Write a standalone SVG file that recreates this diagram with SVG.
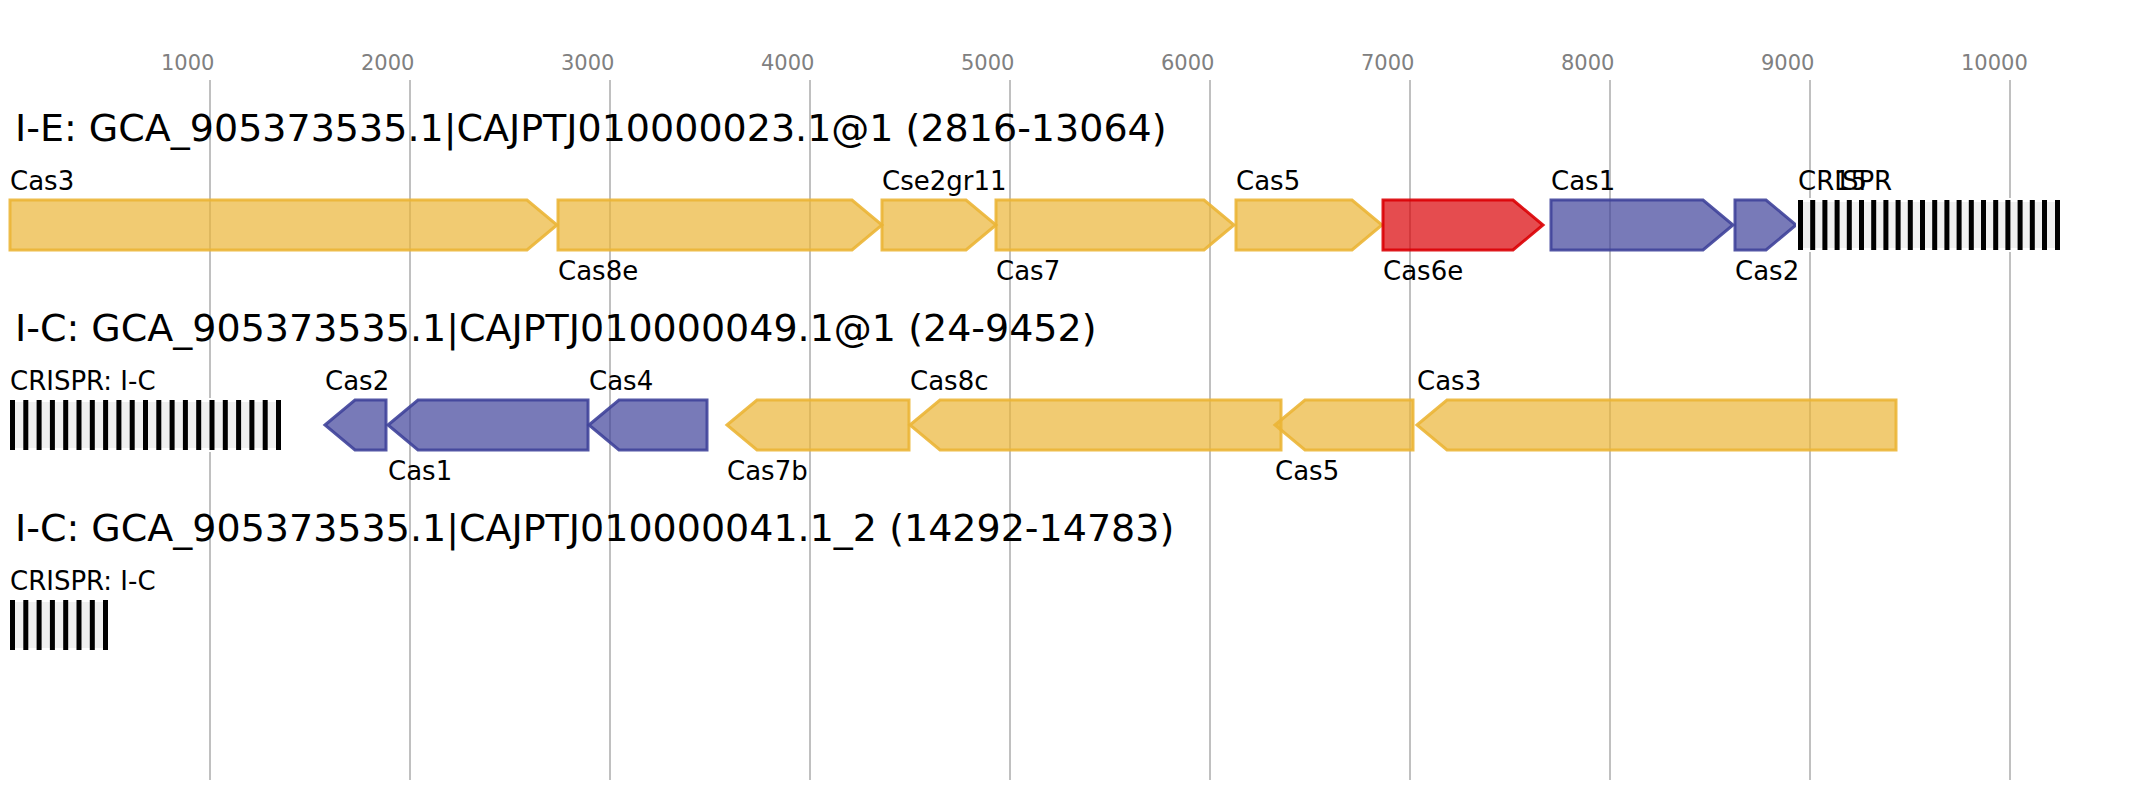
<svg xmlns="http://www.w3.org/2000/svg" width="2150" height="800" viewBox="0 0 2150 800">
<style>
text{font-family:"DejaVu Sans","Liberation Sans",sans-serif;fill:#000}
.tick{font-size:21px;fill:#808080}
.title{font-size:38px}
.lab{font-size:26px}
.grid{stroke:#c0c0c0;stroke-width:2}
.g{stroke-width:3;fill-opacity:0.7;stroke-opacity:0.9;stroke-linejoin:miter}
.y{fill:#EBB536;stroke:#EBB536}
.b{fill:#3F429A;stroke:#3F429A}
.r{fill:#DA0004;stroke:#DA0004}
.abg{fill:#f0f0f0;stroke:#fff;stroke-width:4}
.rep{fill:#000}
</style>
<rect width="2150" height="800" fill="#fff"/>
<g id="axis">
<line class="grid" x1="210" y1="80" x2="210" y2="780"/>
<line class="grid" x1="410" y1="80" x2="410" y2="780"/>
<line class="grid" x1="610" y1="80" x2="610" y2="780"/>
<line class="grid" x1="810" y1="80" x2="810" y2="780"/>
<line class="grid" x1="1010" y1="80" x2="1010" y2="780"/>
<line class="grid" x1="1210" y1="80" x2="1210" y2="780"/>
<line class="grid" x1="1410" y1="80" x2="1410" y2="780"/>
<line class="grid" x1="1610" y1="80" x2="1610" y2="780"/>
<line class="grid" x1="1810" y1="80" x2="1810" y2="780"/>
<line class="grid" x1="2010" y1="80" x2="2010" y2="780"/>
<text class="tick" x="161" y="70">1000</text>
<text class="tick" x="361" y="70">2000</text>
<text class="tick" x="561" y="70">3000</text>
<text class="tick" x="761" y="70">4000</text>
<text class="tick" x="961" y="70">5000</text>
<text class="tick" x="1161" y="70">6000</text>
<text class="tick" x="1361" y="70">7000</text>
<text class="tick" x="1561" y="70">8000</text>
<text class="tick" x="1761" y="70">9000</text>
<text class="tick" x="1961" y="70">10000</text>
</g>
<g id="titles">
<text class="title" x="15" y="141">I-E: GCA_905373535.1|CAJPTJ010000023.1@1 (2816-13064)</text>
<text class="title" x="15" y="341">I-C: GCA_905373535.1|CAJPTJ010000049.1@1 (24-9452)</text>
<text class="title" x="15" y="541">I-C: GCA_905373535.1|CAJPTJ010000041.1_2 (14292-14783)</text>
</g>
<g id="connectors"></g>
<!-- Row 1 -->
<g id="r1-cas3"><polygon class="g y" points="10,200 527,200 557,225 527,250 10,250"/><text class="lab" x="10" y="190">Cas3</text></g>
<g id="r1-cas8e"><polygon class="g y" points="558,200 852,200 882,225 852,250 558,250"/><text class="lab" x="558" y="280">Cas8e</text></g>
<g id="r1-cse2"><polygon class="g y" points="882,200 966,200 996,225 966,250 882,250"/><text class="lab" x="882" y="190">Cse2gr11</text></g>
<g id="r1-cas7"><polygon class="g y" points="996,200 1204,200 1234,225 1204,250 996,250"/><text class="lab" x="996" y="280">Cas7</text></g>
<g id="r1-cas5"><polygon class="g y" points="1236,200 1352,200 1382,225 1352,250 1236,250"/><text class="lab" x="1236" y="190">Cas5</text></g>
<g id="r1-cas6e"><polygon class="g r" points="1383,200 1513,200 1543,225 1513,250 1383,250"/><text class="lab" x="1383" y="280">Cas6e</text></g>
<g id="r1-cas1"><polygon class="g b" points="1551,200 1703,200 1733,225 1703,250 1551,250"/><text class="lab" x="1551" y="190">Cas1</text></g>
<g id="r1-cas2"><polygon class="g b" points="1735,200 1766,200 1796,225 1766,250 1735,250"/><text class="lab" x="1735" y="280">Cas2</text></g>
<g id="r1-crispr">
<rect class="abg" x="1798" y="200" width="262" height="50"/>
<g class="rep">
<rect x="1798" y="200" width="5" height="50"/><rect x="1810.2" y="200" width="5" height="50"/><rect x="1822.4" y="200" width="5" height="50"/><rect x="1834.6" y="200" width="5" height="50"/><rect x="1846.8" y="200" width="5" height="50"/><rect x="1859" y="200" width="5" height="50"/><rect x="1871.2" y="200" width="5" height="50"/><rect x="1883.4" y="200" width="5" height="50"/><rect x="1895.6" y="200" width="5" height="50"/><rect x="1907.8" y="200" width="5" height="50"/><rect x="1920" y="200" width="5" height="50"/><rect x="1932.2" y="200" width="5" height="50"/><rect x="1944.4" y="200" width="5" height="50"/><rect x="1956.6" y="200" width="5" height="50"/><rect x="1968.8" y="200" width="5" height="50"/><rect x="1981" y="200" width="5" height="50"/><rect x="1993.2" y="200" width="5" height="50"/><rect x="2005.4" y="200" width="5" height="50"/><rect x="2017.6" y="200" width="5" height="50"/><rect x="2029.8" y="200" width="5" height="50"/><rect x="2042" y="200" width="5" height="50"/><rect x="2055" y="200" width="5" height="50"/>
</g>
<text class="lab" x="1798" y="190">CRISPR</text><text class="lab" x="1834" y="190">15</text>
</g>
<!-- Row 2 -->
<g id="r2-crispr">
<rect class="abg" x="10" y="400" width="271" height="50"/>
<g class="rep">
<rect x="10" y="400" width="5" height="50"/><rect x="23.3" y="400" width="5" height="50"/><rect x="36.6" y="400" width="5" height="50"/><rect x="49.9" y="400" width="5" height="50"/><rect x="63.2" y="400" width="5" height="50"/><rect x="76.5" y="400" width="5" height="50"/><rect x="89.8" y="400" width="5" height="50"/><rect x="103.1" y="400" width="5" height="50"/><rect x="116.4" y="400" width="5" height="50"/><rect x="129.7" y="400" width="5" height="50"/><rect x="143" y="400" width="5" height="50"/><rect x="156.3" y="400" width="5" height="50"/><rect x="169.6" y="400" width="5" height="50"/><rect x="182.9" y="400" width="5" height="50"/><rect x="196.2" y="400" width="5" height="50"/><rect x="209.5" y="400" width="5" height="50"/><rect x="222.8" y="400" width="5" height="50"/><rect x="236.1" y="400" width="5" height="50"/><rect x="249.4" y="400" width="5" height="50"/><rect x="262.7" y="400" width="5" height="50"/><rect x="276" y="400" width="5" height="50"/>
</g>
<text class="lab" x="10" y="390">CRISPR: I-C</text>
</g>
<g id="r2-cas2"><polygon class="g b" points="325,425 355,400 386,400 386,450 355,450"/><text class="lab" x="325" y="390">Cas2</text></g>
<g id="r2-cas1"><polygon class="g b" points="388,425 418,400 588,400 588,450 418,450"/><text class="lab" x="388" y="480">Cas1</text></g>
<g id="r2-cas4"><polygon class="g b" points="589,425 619,400 707,400 707,450 619,450"/><text class="lab" x="589" y="390">Cas4</text></g>
<g id="r2-cas7b"><polygon class="g y" points="727,425 757,400 909,400 909,450 757,450"/><text class="lab" x="727" y="480">Cas7b</text></g>
<g id="r2-cas8c"><polygon class="g y" points="910,425 940,400 1281,400 1281,450 940,450"/><text class="lab" x="910" y="390">Cas8c</text></g>
<g id="r2-cas5"><polygon class="g y" points="1275,425 1305,400 1413,400 1413,450 1305,450"/><text class="lab" x="1275" y="480">Cas5</text></g>
<g id="r2-cas3"><polygon class="g y" points="1417,425 1447,400 1896,400 1896,450 1447,450"/><text class="lab" x="1417" y="390">Cas3</text></g>
<!-- Row 3 -->
<g id="r3-crispr">
<rect class="abg" x="10" y="600" width="98" height="50"/>
<g class="rep">
<rect x="10" y="600" width="5" height="50"/><rect x="23.3" y="600" width="5" height="50"/><rect x="36.6" y="600" width="5" height="50"/><rect x="49.9" y="600" width="5" height="50"/><rect x="63.2" y="600" width="5" height="50"/><rect x="76.5" y="600" width="5" height="50"/><rect x="89.8" y="600" width="5" height="50"/><rect x="103" y="600" width="5" height="50"/>
</g>
<text class="lab" x="10" y="590">CRISPR: I-C</text>
</g>
</svg>
